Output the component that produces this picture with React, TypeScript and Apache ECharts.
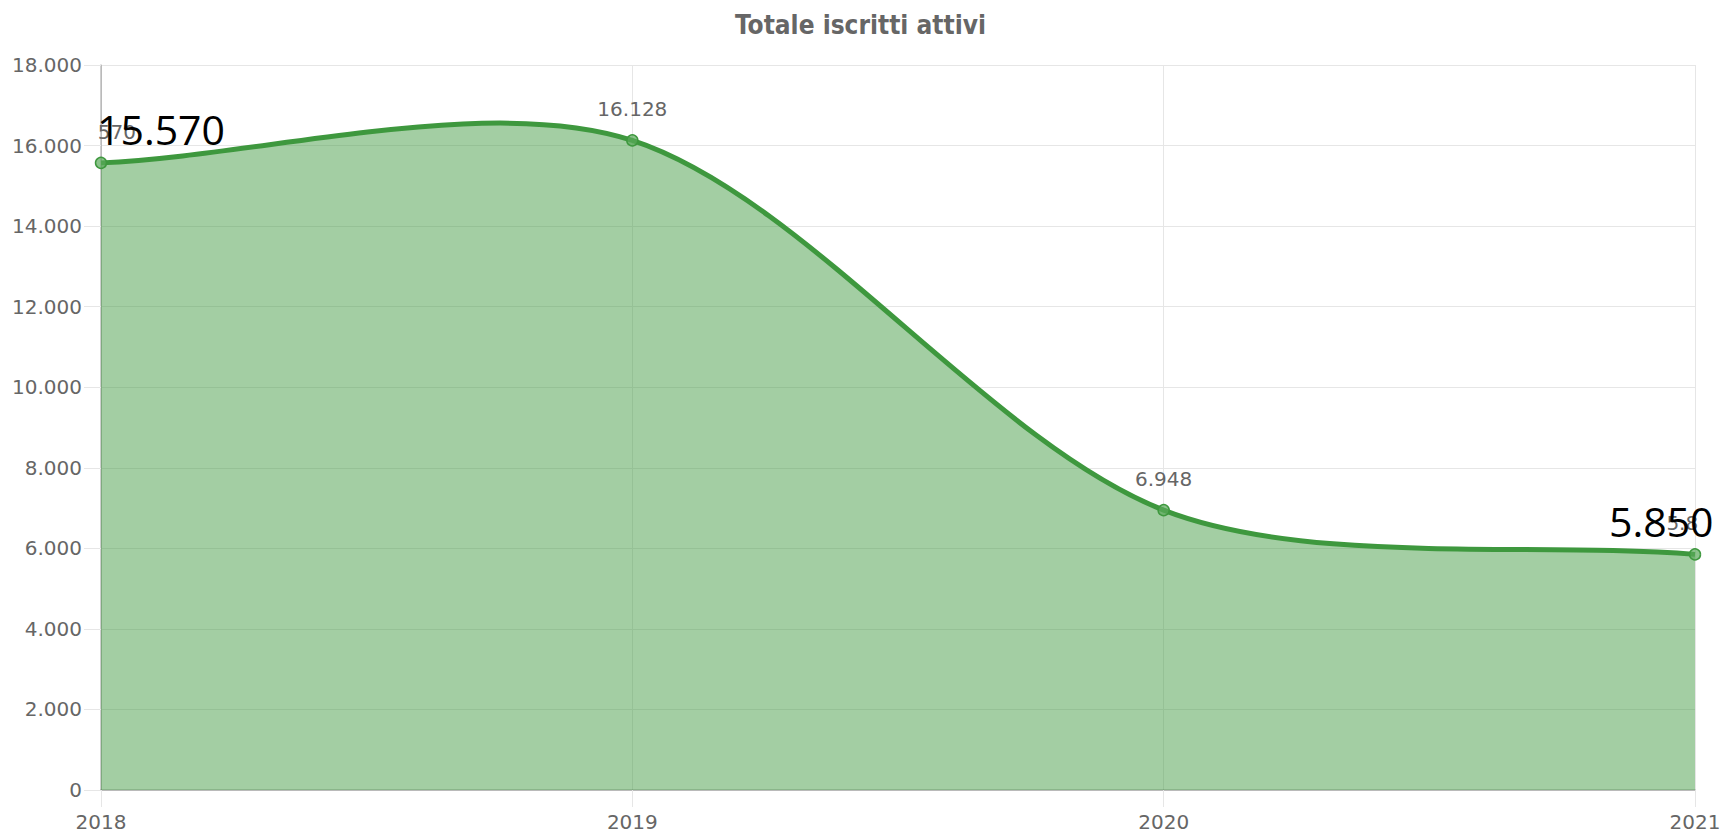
import React, { useEffect, useRef } from "react";
import * as echarts from "echarts";

const TITLE = "Totale iscritti attivi";
const years = ["2018", "2019", "2020", "2021"];
const iscritti = [15570, 16128, 6948, 5850];
const yMax = 18000;
const yStep = 2000;
const TENSION = 0.3;

const fmt = (v: number) => String(Math.round(v)).replace(/\B(?=(\d{3})+(?!\d))/g, ".");

const LINE = "#3e983e";
const FILL = "rgba(62,152,62,0.48)";
const GRID = "#e6e6e6";
const AXIS = "rgba(0,0,0,0.25)";
const FONT = "'DejaVu Sans', sans-serif";

export default function App() {
  const ref = useRef<HTMLDivElement>(null);
  useEffect(() => {
    if (!ref.current) return;
    const chart = echarts.init(ref.current, undefined, { renderer: "svg" });
    const last = iscritti.length - 1;

    const renderCurve = (params: any, api: any) => {
      if (params.dataIndex !== 0) return null;
      const pts = iscritti.map((v, i) => api.coord([i, v]));
      const base = api.coord([0, 0])[1];
      const cps = pts.map((cur, k) => {
        const prev = pts[k - 1] || cur;
        const next = pts[k + 1] || cur;
        const d01 = Math.hypot(cur[0] - prev[0], cur[1] - prev[1]);
        const d12 = Math.hypot(next[0] - cur[0], next[1] - cur[1]);
        const tot = d01 + d12 || 1;
        const fa = TENSION * (d01 / tot);
        const fb = TENSION * (d12 / tot);
        return {
          p: [cur[0] - fa * (next[0] - prev[0]), cur[1] - fa * (next[1] - prev[1])],
          n: [cur[0] + fb * (next[0] - prev[0]), cur[1] + fb * (next[1] - prev[1])],
        };
      });
      let d = `M${pts[0][0]} ${pts[0][1]}`;
      for (let k = 0; k < pts.length - 1; k++) {
        const a = cps[k].n;
        const b = cps[k + 1].p;
        const e = pts[k + 1];
        d += ` C${a[0]} ${a[1]} ${b[0]} ${b[1]} ${e[0]} ${e[1]}`;
      }
      const area = `${d} L${pts[last][0]} ${base} L${pts[0][0]} ${base} Z`;
      return {
        type: "group",
        children: [
          { type: "path", shape: { pathData: area }, style: { fill: FILL, stroke: "none" } },
          { type: "path", shape: { pathData: d }, style: { fill: "none", stroke: LINE, lineWidth: 5 } },
        ],
      };
    };

    chart.setOption({
      animation: false,
      title: {
        text: TITLE,
        left: "center",
        top: 7,
        textStyle: {
          color: "#666",
          fontWeight: "bold",
          fontSize: 26,
          fontFamily: "'DejaVu Sans Condensed', 'DejaVu Sans', sans-serif",
        },
      },
      grid: { left: 101, right: 26, top: 65, bottom: 46, containLabel: false, outerBoundsMode: "none" },
      xAxis: {
        type: "category",
        data: years,
        boundaryGap: false,
        axisLine: { show: true, lineStyle: { color: AXIS, width: 1.5 } },
        axisTick: { show: true, length: 17, lineStyle: { color: GRID }, interval: 0 },
        axisLabel: { color: "#666", fontSize: 20, fontFamily: FONT, margin: 22, interval: 0 },
        splitLine: { show: true, interval: 0, lineStyle: { color: GRID } },
      },
      yAxis: {
        type: "value",
        min: 0,
        max: yMax,
        interval: yStep,
        axisLine: { show: true, lineStyle: { color: AXIS, width: 1.5 } },
        axisTick: { show: true, length: 17, lineStyle: { color: GRID } },
        axisLabel: { color: "#666", fontSize: 20, fontFamily: FONT, margin: 19, formatter: (v: number) => fmt(v) },
        splitLine: { show: true, lineStyle: { color: GRID } },
      },
      series: [
        {
          type: "custom",
          z: 2,
          silent: true,
          data: iscritti.map((v, i) => [i, v]),
          encode: { x: 0, y: 1 },
          renderItem: renderCurve,
        },
        {
          type: "line",
          z: 3,
          data: iscritti,
          symbol: "circle",
          symbolSize: 11,
          lineStyle: { opacity: 0, width: 0 },
          itemStyle: { color: "rgba(90,170,90,0.7)", borderColor: LINE, borderWidth: 1.5 },
          label: {
            show: true,
            position: "top",
            distance: 15,
            formatter: (p: any) => {
              const s = fmt(p.value);
              const k = Math.ceil(s.length / 2);
              if (p.dataIndex === 0) return `{h|${s.slice(0, k)}}{v|${s.slice(k)}}`;
              if (p.dataIndex === last) return `{v|${s.slice(0, k)}}{h|${s.slice(k)}}`;
              return `{v|${s}}`;
            },
            rich: {
              v: { color: "#666", fontSize: 20, fontFamily: FONT },
              h: { color: "rgba(0,0,0,0)", fontSize: 20, fontFamily: FONT },
            },
          },
        },
        {
          type: "line",
          z: 4,
          silent: true,
          symbol: "circle",
          symbolSize: 2,
          lineStyle: { opacity: 0, width: 0 },
          itemStyle: { color: "rgba(0,0,0,0)" },
          data: iscritti.map((v, i) => {
            if (i === 0)
              return { value: v, label: { show: true, position: [-3, -33], align: "left", verticalAlign: "middle" } };
            if (i === last)
              return { value: v, label: { show: true, position: [-85, -32], align: "left", verticalAlign: "middle" } };
            return { value: v, label: { show: false } };
          }),
          label: {
            show: false,
            color: "#000",
            fontSize: 41,
            fontFamily: "'Open Sans', sans-serif",
            formatter: (p: any) => fmt(p.value),
          },
        },
      ],
    });
    return () => chart.dispose();
  }, []);
  return <div ref={ref} style={{ position: "absolute", left: 0, top: 0, width: 1721, height: 836 }} />;
}
